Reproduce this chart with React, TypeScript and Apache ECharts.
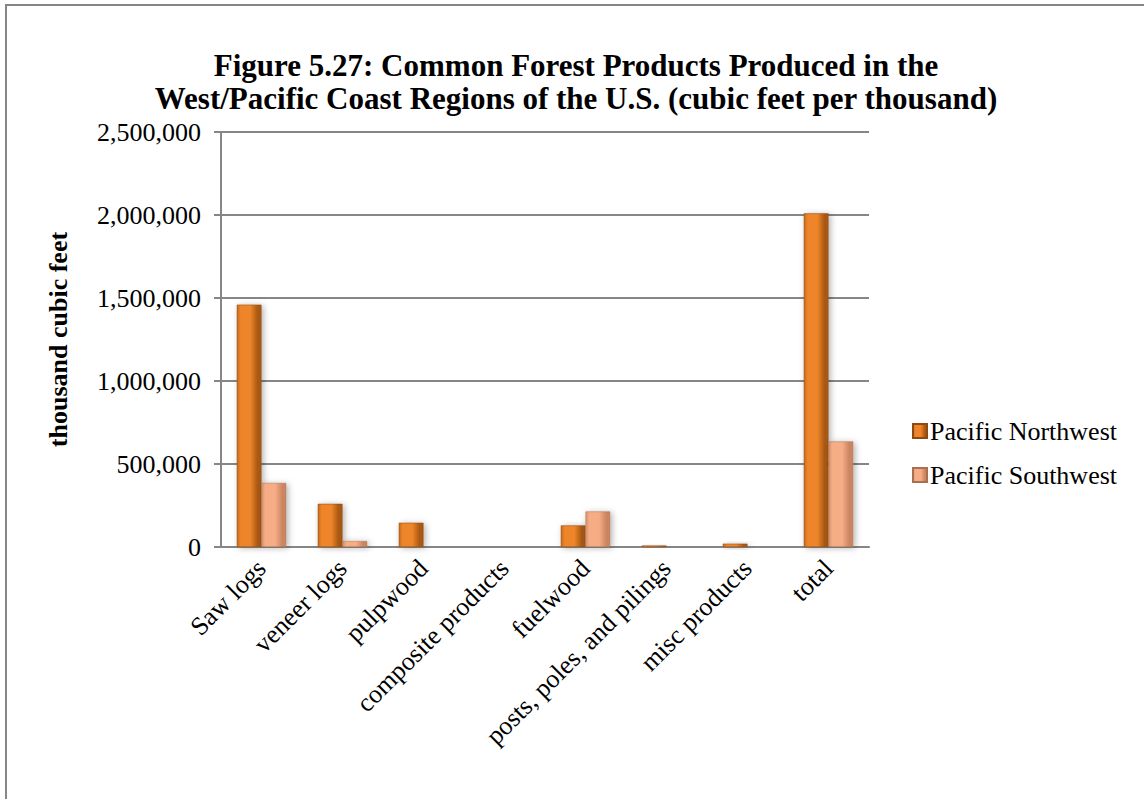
import React, { useEffect, useRef } from "react";
import * as echarts from "echarts";

// Forest product categories along the x axis
const categories = [
  "Saw logs",
  "veneer logs",
  "pulpwood",
  "composite products",
  "fuelwood",
  "posts, poles, and pilings",
  "misc products",
  "total",
];

// Output in thousand cubic feet
const pacificNorthwest = [1460000, 260000, 146000, 0, 130000, 9000, 20000, 2010000];
const pacificSouthwest = [386000, 36000, 2000, 0, 214000, 2000, 1000, 636000];

const seriesNames = ["Pacific Northwest", "Pacific Southwest"];

const yTicks = { min: 0, max: 2500000, interval: 500000 };

const titleLines = [
  "Figure 5.27: Common Forest Products Produced in the",
  "West/Pacific Coast Regions of the U.S. (cubic feet per thousand)",
];

const FONT = "'Liberation Serif', 'Times New Roman', serif";
const GRAY = "#868686";

const barGradient = (edgeL: string, mid: string, edgeR: string) =>
  new echarts.graphic.LinearGradient(0, 0, 1, 0, [
    { offset: 0, color: edgeL },
    { offset: 0.15, color: mid },
    { offset: 0.55, color: mid },
    { offset: 0.85, color: edgeR },
    { offset: 1, color: edgeR },
  ]);

export default function App() {
  const ref = useRef<HTMLDivElement>(null);

  useEffect(() => {
    if (!ref.current) return;
    const chart = echarts.init(ref.current, undefined, { renderer: "svg" });

    const nwColor = barGradient("#C46A1C", "#EE8529", "#A95812");
    const swColor = barGradient("#D8916E", "#F6AD86", "#CC8562");

    chart.setOption({
      animation: false,
      backgroundColor: "#ffffff",
      textStyle: { fontFamily: FONT },
      graphic: [
        {
          type: "rect",
          shape: { x: 6, y: 5, width: 1200, height: 900 },
          style: { fill: "none", stroke: GRAY, lineWidth: 2 },
          silent: true,
        },
        {
          type: "text",
          x: 576,
          y: 50,
          style: {
            text: titleLines[0],
            font: `bold 31px ${FONT}`,
            fill: "#000",
            textAlign: "center",
            textVerticalAlign: "top",
          },
        },
        {
          type: "text",
          x: 576,
          y: 83,
          style: {
            text: titleLines[1],
            font: `bold 31px ${FONT}`,
            fill: "#000",
            textAlign: "center",
            textVerticalAlign: "top",
          },
        },
      ],
      legend: {
        orient: "vertical",
        left: 907,
        top: 413,
        itemWidth: 14,
        itemHeight: 14,
        itemGap: 18,
        icon: "rect",
        textStyle: { fontFamily: FONT, fontSize: 26, color: "#000", padding: [0, 0, 0, -2] },
        data: seriesNames,
      },
      grid: { left: 221, right: 275, top: 132, bottom: 252, containLabel: false },
      xAxis: {
        type: "category",
        data: categories,
        axisLine: { lineStyle: { color: GRAY, width: 2 } },
        axisTick: { show: false },
        axisLabel: {
          interval: 0,
          rotate: 45,
          fontFamily: FONT,
          fontSize: 26,
          color: "#000",
          margin: 17,
        },
      },
      yAxis: {
        type: "value",
        min: yTicks.min,
        max: yTicks.max,
        interval: yTicks.interval,
        name: "thousand cubic feet",
        nameLocation: "middle",
        nameRotate: 90,
        nameGap: 150,
        nameTextStyle: { fontFamily: FONT, fontSize: 26, fontWeight: "bold", color: "#000" },
        axisLine: { show: true, lineStyle: { color: GRAY, width: 2 } },
        axisTick: { show: true, length: 7, lineStyle: { color: GRAY, width: 2 } },
        splitLine: { lineStyle: { color: GRAY, width: 2 } },
        axisLabel: {
          fontFamily: FONT,
          fontSize: 26,
          color: "#000",
          margin: 20,
          formatter: (v: number) => v.toLocaleString("en-US"),
        },
      },
      series: [
        {
          name: seriesNames[0],
          type: "bar",
          data: pacificNorthwest,
          barGap: "0%",
          barCategoryGap: "39%",
          itemStyle: {
            color: nwColor,
            borderColor: "#8E4A10",
            borderWidth: 0.5,
            shadowBlur: 6,
            shadowColor: "rgba(0,0,0,0.3)",
            shadowOffsetX: 2,
            shadowOffsetY: 1,
          },
        },
        {
          name: seriesNames[1],
          type: "bar",
          data: pacificSouthwest,
          itemStyle: {
            color: swColor,
            borderColor: "#A8704F",
            borderWidth: 0.5,
            shadowBlur: 6,
            shadowColor: "rgba(0,0,0,0.3)",
            shadowOffsetX: 2,
            shadowOffsetY: 1,
          },
        },
      ],
    });

    return () => chart.dispose();
  }, []);

  return (
    <div
      ref={ref}
      style={{ position: "absolute", left: 0, top: 0, width: 1144, height: 799 }}
    />
  );
}
